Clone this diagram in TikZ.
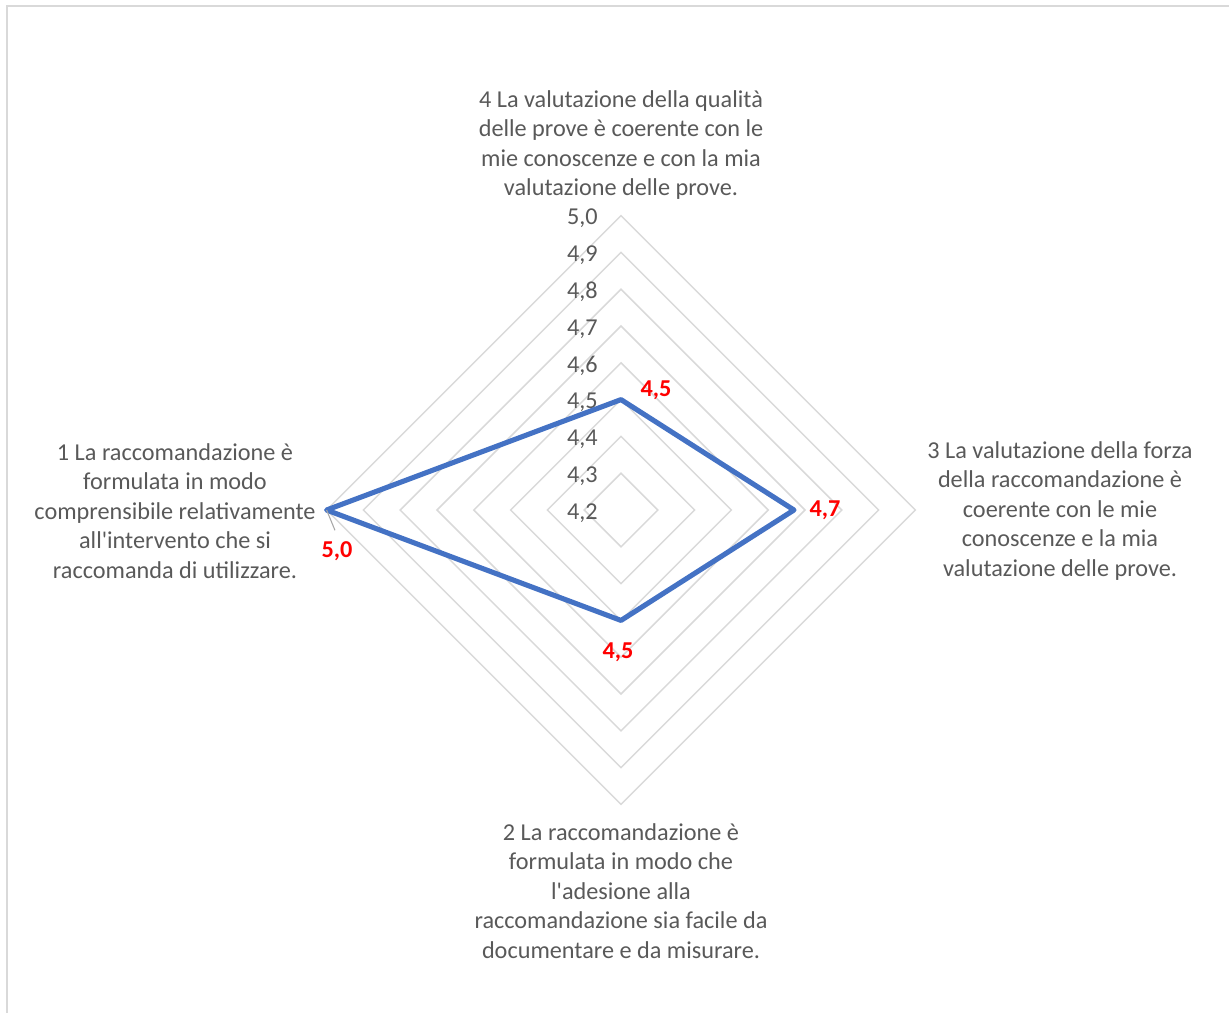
\documentclass[tikz,border=0pt]{standalone}
\usepackage{fontspec}
\setmainfont{Carlito}
\usepackage{xcolor}
\usepackage{tikz}
\usetikzlibrary{calc}
\definecolor{gridgray}{HTML}{D9D9D9}
\definecolor{textgray}{HTML}{595959}
\definecolor{seriesblue}{HTML}{4472C4}
\definecolor{leadgray}{HTML}{A6A6A6}

\begin{document}
\begin{tikzpicture}[x=0.02cm,y=-0.02cm,
  font=\fontsize{13.8}{16.8}\selectfont,
  ring/.style={draw=gridgray,line width=0.85pt},
  ticklab/.style={anchor=east,text=textgray,inner sep=0pt},
  catlab/.style={align=center,text=textgray},
  vallab/.style={text=red,font=\fontsize{13.8}{16.8}\selectfont\bfseries},
  series/.style={draw=seriesblue,line width=2.9pt,line join=round},
  leader/.style={draw=leadgray,line width=0.6pt}]
\useasboundingbox (0,0) rectangle (1229,1012);
% frame
\draw[gridgray,line width=0.85pt] (7,6) rectangle (1240,1020);
% rings 4,3 ... 5,0
\foreach \k in {1,...,8}
  \draw[ring] ({621-\k*36.8},510) -- (621,{510-\k*36.8}) -- ({621+\k*36.8},510)
    -- (621,{510+\k*36.8}) -- cycle;
% scale
\foreach \k [evaluate=\k as \d using int(\k+2)] in {0,...,7}
  \node[ticklab] (t\k) at (598,{513-\k*36.8}) {4,\d};
\node[ticklab] (t8) at (598,{513-8*36.8}) {5,0};
% categories
\node[catlab] (c4) at (621,145) {4 La valutazione della qualità\\delle prove è coerente con le\\mie conoscenze e con la mia\\valutazione delle prove.};
\node[catlab] (c1) at (175,511) {1 La raccomandazione è\\formulata in modo\\comprensibile relativamente\\all\textquotesingle intervento che si\\raccomanda di utilizzare.};
\node[catlab] (c3) at (1060,511) {3 La valutazione della forza\\della raccomandazione è\\coerente con le mie\\conoscenze e la mia\\valutazione delle prove.};
\node[catlab] (c2) at (621,891) {2 La raccomandazione è\\formulata in modo che\\l\textquotesingle adesione alla\\raccomandazione sia facile da\\documentare e da misurare.};
% series
\coordinate (p1) at ({621-8*36.8},510);
\coordinate (p2) at (621,{510+3*36.8});
\coordinate (p3) at ({621+4.7*36.8},510);
\coordinate (p4) at (621,{510-3*36.8});
\draw[series] (p1) -- (p2) -- (p3) -- (p4) -- cycle;
% values
\node[vallab] (v4) at (656,390) {4,5};
\node[vallab] (v3) at (825,510) {4,7};
\node[vallab] (v1) at (337,551) {5,0};
\node[vallab] (v2) at (618,652) {4,5};
\draw[leader,shorten >=3pt] (p1) -- (v1.north);
\end{tikzpicture}
\end{document}
